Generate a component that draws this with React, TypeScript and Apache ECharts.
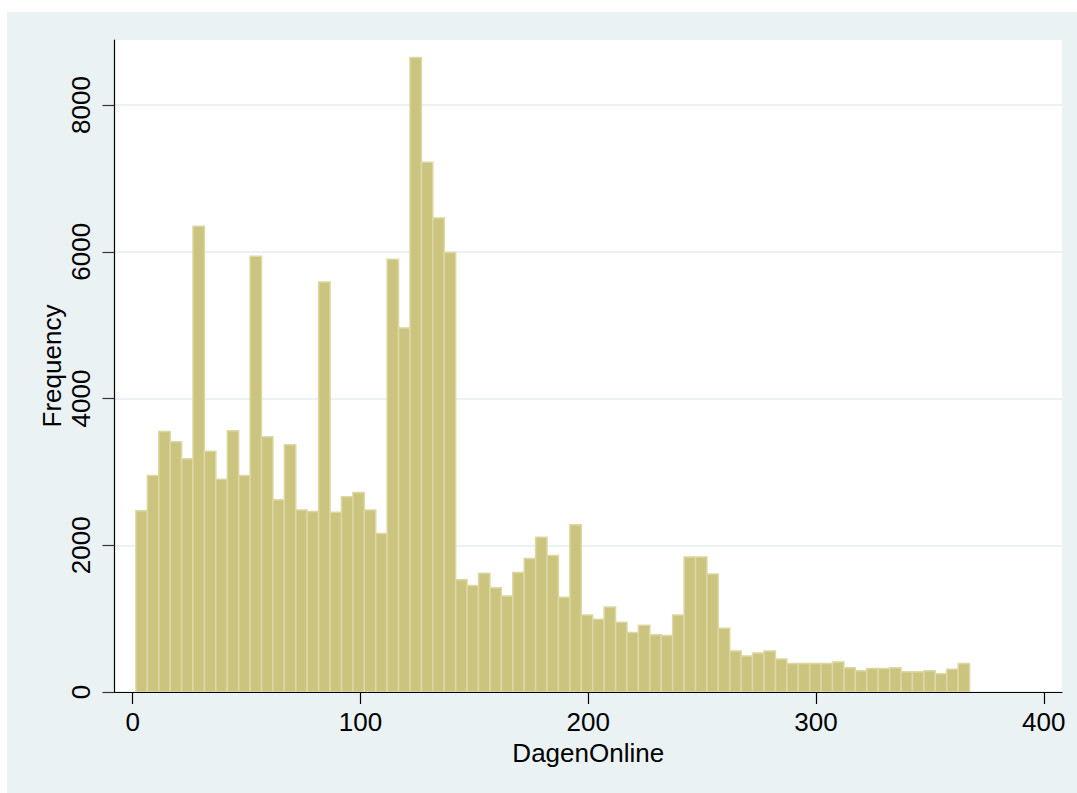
import React, { useEffect, useRef } from "react";
import * as echarts from "echarts";

// Histogram of DagenOnline: 73 bins
const binStart = 1.4;
const binWidth = 5.014;
const frequencies = [
  2470, 2950, 3550, 3410, 3180, 6350, 3280, 2900, 3560, 2950,
  5940, 3480, 2620, 3370, 2480, 2460, 5590, 2450, 2660, 2720,
  2480, 2160, 5900, 4960, 8650, 7220, 6460, 5990, 1530, 1450,
  1620, 1420, 1310, 1630, 1820, 2110, 1860, 1290, 2280, 1050,
  990, 1160, 950, 810, 910, 780, 770, 1050, 1840, 1840,
  1610, 870, 560, 490, 530, 560, 450, 390, 390, 390,
  390, 410, 330, 290, 320, 320, 330, 275, 275, 290,
  250, 310, 390,
];
const xTicks = [0, 100, 200, 300, 400];
const yTicks = [0, 2000, 4000, 6000, 8000];
const xTitle = "DagenOnline";
const yTitle = "Frequency";

const FONT = "'Liberation Sans', Arial, Helvetica, sans-serif";

export default function App() {
  const ref = useRef<HTMLDivElement>(null);
  useEffect(() => {
    if (!ref.current) return;
    const chart = echarts.init(ref.current, null, { renderer: "svg" });
    const data = frequencies.map((f, i) => [
      binStart + i * binWidth,
      binStart + (i + 1) * binWidth,
      f,
    ]);
    chart.setOption({
      animation: false,
      backgroundColor: "#FFFFFF",
      graphic: {
        elements: [
          {
            type: "rect",
            z: -100,
            left: 7,
            top: 12,
            shape: { width: 1070, height: 781 },
            style: { fill: "#EAF2F3" },
          },
        ],
      },
      grid: {
        left: 114.5,
        right: 15,
        top: 40,
        bottom: 101,
        show: true,
        backgroundColor: "#FFFFFF",
        borderWidth: 0,
      },
      xAxis: {
        type: "value",
        min: -8,
        max: 408,
        name: xTitle,
        nameLocation: "middle",
        nameGap: 38,
        nameTextStyle: { fontFamily: FONT, fontSize: 26, color: "#000" },
        axisLine: { show: true, onZero: false, lineStyle: { color: "#000", width: 1.2 } },
        axisTick: {
          show: true,
          length: 12,
          customValues: xTicks,
          lineStyle: { color: "#000", width: 1.2 },
        },
        axisLabel: {
          customValues: xTicks,
          margin: 17,
          fontFamily: FONT,
          fontSize: 26,
          color: "#000",
          formatter: (v: number) => String(v),
        },
        splitLine: { show: false },
      },
      yAxis: {
        type: "value",
        min: 0,
        max: 8887,
        name: yTitle,
        nameLocation: "middle",
        nameRotate: 90,
        nameGap: 50,
        nameMoveOverlap: false,
        nameTextStyle: { fontFamily: FONT, fontSize: 26, color: "#000" },
        axisLine: { show: true, onZero: false, lineStyle: { color: "#000", width: 1.2 } },
        axisTick: {
          show: true,
          length: 12,
          customValues: yTicks,
          lineStyle: { color: "#333", width: 1.2 },
        },
        axisLabel: {
          customValues: yTicks,
          rotate: 90,
          margin: 21,
          fontFamily: FONT,
          fontSize: 26,
          color: "#000",
          formatter: (v: number) => String(v),
        },
        splitLine: { show: true, lineStyle: { color: "#EAF2F3", width: 2 } },
      },
      series: [
        {
          type: "custom",
          clip: true,
          encode: { x: [0, 1], y: 2 },
          data,
          renderItem: (params: any, api: any) => {
            const x0 = api.value(0);
            const x1 = api.value(1);
            const v = api.value(2);
            const p0 = api.coord([x0, v]);
            const p1 = api.coord([x1, 0]);
            return {
              type: "rect",
              shape: {
                x: p0[0],
                y: p0[1],
                width: p1[0] - p0[0],
                height: p1[1] - p0[1],
              },
              style: { fill: "#CBC47E", stroke: "#DCD7A4", lineWidth: 1.5 },
            };
          },
        },
      ],
    });
    return () => chart.dispose();
  }, []);
  return (
    <div
      ref={ref}
      style={{ position: "absolute", left: 0, top: 0, width: 1077, height: 793 }}
    />
  );
}
